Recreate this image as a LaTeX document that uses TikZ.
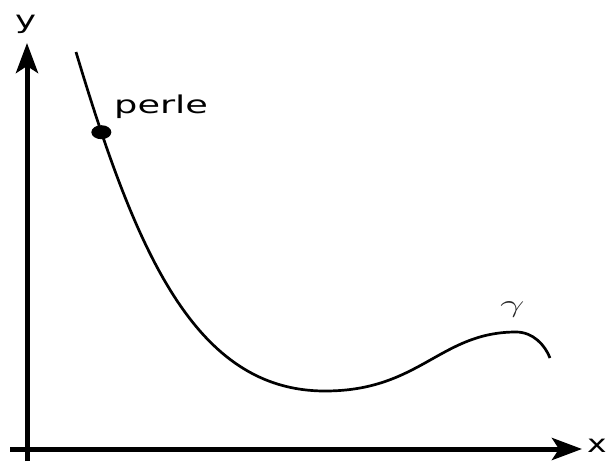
\documentclass[tikz,border=0pt]{standalone}
\usepackage{fontspec}
\setmainfont{DejaVu Sans}
\usepackage{tikz}
\usetikzlibrary{arrows.meta,shapes.geometric}

\newcommand{\widetext}[1]{\scalebox{1.45}[1]{#1}}

\begin{document}
\begin{tikzpicture}[
    x=1pt,
    y=-1pt,
    axis/.style={line width=5pt, -{Stealth[length=30pt, width=22pt, inset=7pt]}},
    curve/.style={line width=2.7pt},
    lab/.style={inner sep=0pt, anchor=base west, font=\fontsize{24.5}{24}\selectfont},
    pearl/.style={ellipse, fill=black, inner sep=0pt, minimum width=20pt, minimum height=14pt}
]
\useasboundingbox (0,0) rectangle (608,461);

% Axes
\coordinate (ybot) at (27,461);
\coordinate (ytop) at (27,43);
\coordinate (xleft) at (10,449);
\coordinate (xright) at (582,449);
\draw[axis] (ybot) -- (ytop);
\draw[axis] (xleft) -- (xright);
\node[lab] (ylab) at (15,28) {\widetext{y}};
\node[lab] (xlab) at (587,452) {\scalebox{1.35}[1]{x}};

% Curve
\coordinate (start) at (76,52);
\coordinate (low) at (325,391);
\coordinate (peak) at (516,332);
\coordinate (stop) at (550,358);
\draw[curve] (start) .. controls (136,252) and (195,391) .. (low)
  node[pos=0.14, pearl] (dot) {}
  .. controls (420,391) and (440,332) .. (peak)
  .. controls (533,332) and (545,345) .. (stop);

\node[lab] (perle) at (114,113) {\scalebox{1.5}[1]{perle}};
\node[inner sep=0pt, anchor=base west, text=black!85,
      font=\fontsize{36}{36}\selectfont] (gamma) at (500,312) {\scalebox{1.75}[1]{$\gamma$}};
\end{tikzpicture}
\end{document}
